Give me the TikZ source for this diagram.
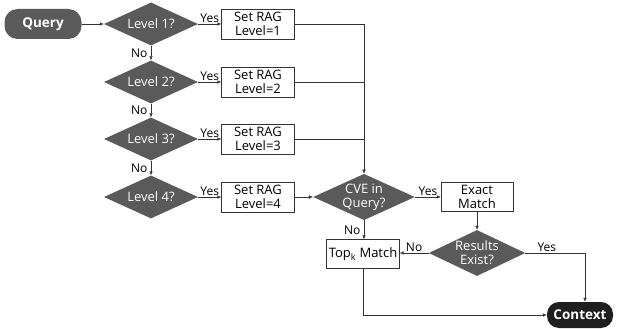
\documentclass[tikz,border=0pt]{standalone}
\usepackage{fontspec}
\setmainfont{Open Sans}
\usetikzlibrary{shapes.geometric,arrows.meta}
\definecolor{boxgray}{HTML}{5A5A5A}
\definecolor{ctxblack}{HTML}{1E1E1E}
\definecolor{linegray}{HTML}{333333}
\begin{document}
\begin{tikzpicture}[x=1pt,y=-1pt,
  font=\fontsize{13}{14}\selectfont,
  decision/.style={diamond,aspect=2.2,inner sep=0pt,minimum width=94pt,
    minimum height=43pt,fill=boxgray,text=white,align=center},
  setbox/.style={draw=linegray,fill=white,minimum width=73pt,minimum height=30pt,
    inner sep=1pt,align=center},
  pill/.style={rounded corners=13pt,minimum width=77pt,minimum height=30pt,
    text=white,font=\fontsize{13.5}{14}\selectfont\bfseries},
  arr/.style={draw=linegray,-{Latex[length=4pt,width=3.5pt]}},
  plain/.style={draw=linegray},
  lbl/.style={font=\fontsize{12}{12}\selectfont,inner sep=1.5pt}]
\useasboundingbox (0,0) rectangle (622,329);
\node[pill,fill=boxgray] (query) at (43,24) {Query};
\foreach \i/\y in {1/24,2/82,3/139,4/197} {
  \node[decision] (lv\i) at (151,\y) {Level \i?};
  \node[setbox] (rag\i) at (258,\y) {Set RAG\\Level=\i};
  \draw[arr] (lv\i.east) -- node[lbl,above] {Yes} (rag\i.west);
}
\foreach \i/\j in {1/2,2/3,3/4}
  \draw[arr] (lv\i.south) -- node[lbl,left,xshift=-2pt] {No} (lv\j.north);
\draw[arr] (query.east) -- (lv1.west);
% right hand side
\node[decision,minimum height=40pt] (cve) at (364,197) {CVE in\\Query?};
\node[setbox,minimum width=72pt,minimum height=29pt] (exact) at (477,197) {Exact\\Match};
\node[decision,minimum width=95pt,minimum height=46pt] (found) at (477,253) {Results\\Exist?};
\node[setbox,minimum height=29pt] (topk) at (363,254) {Top\textsubscript{k} Match};
\node[pill,fill=ctxblack,minimum width=66pt,minimum height=26pt,rounded corners=12pt] (ctx) at (580,315) {Context};
\draw[arr] (rag1.east) -| (cve.north);
\draw[plain] (rag2.east) -- (rag2 -| cve.north);
\draw[plain] (rag3.east) -- (rag3 -| cve.north);
\draw[arr] (rag4.east) -- (cve.west);
\draw[arr] (cve.east) -- node[lbl,above] {Yes} (exact.west);
\draw[arr] (cve.south) -- node[lbl,left,xshift=-2pt] {No} (cve.south |- topk.north);
\draw[arr] (exact.south) -- (found.north);
\draw[arr] (found.west) -- node[lbl,above] {No} (found.west -| topk.east);
\draw[arr] (found.east) -| node[lbl,above,pos=0.18] {Yes} ([xshift=5pt]ctx.north);
\draw[arr] (topk.south) |- (ctx.west);
\end{tikzpicture}
\end{document}
